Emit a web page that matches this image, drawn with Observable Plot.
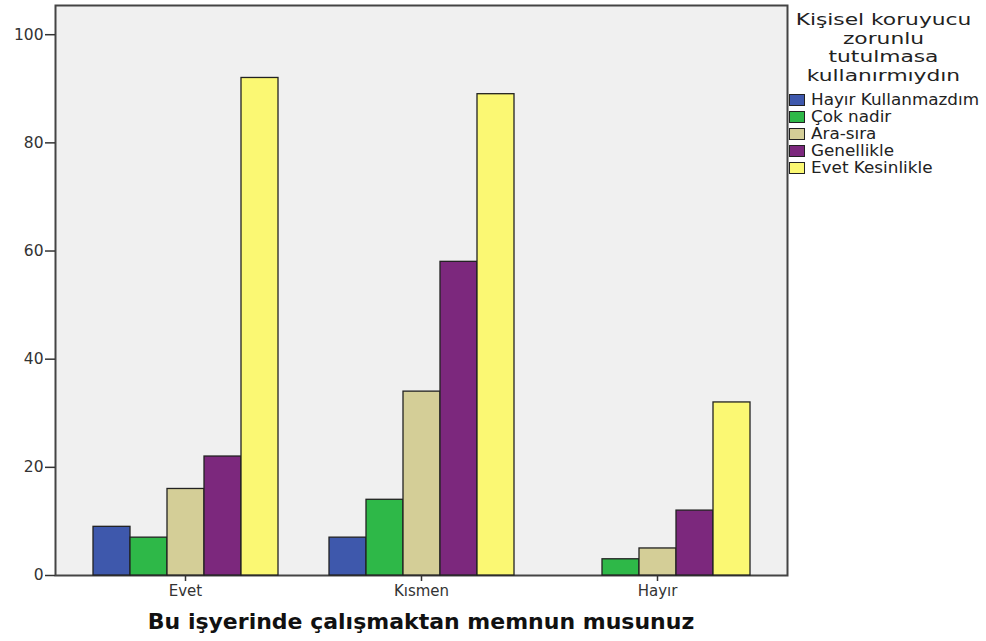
<!DOCTYPE html>
<html><head><meta charset="utf-8">
<script src="https://cdn.jsdelivr.net/npm/d3@7"></script>
<script src="https://cdn.jsdelivr.net/npm/@observablehq/plot@0.6"></script>
<style>
body{margin:0;background:#fff;font-family:"DejaVu Sans",sans-serif;}
#wrap{position:relative;width:986px;height:641px;overflow:hidden;}
#xtitle{position:absolute;left:55px;width:732px;top:608px;text-align:center;font-weight:bold;font-size:22px;line-height:28px;color:#111;}
#legend{position:absolute;left:789px;top:11px;width:197px;color:#222;}
#legend .lt{text-align:center;font-size:16px;line-height:18.5px;margin-left:-8px;margin-bottom:6px;transform:scaleX(1.36);transform-origin:center;}
#legend .it{display:flex;align-items:center;height:17px;font-size:15px;white-space:nowrap;}
#legend .it span{display:inline-block;transform:scaleX(1.12);transform-origin:left center;}
#legend .sw{width:16px;height:12px;border:1px solid #222;margin-right:6px;box-sizing:border-box;flex:none;}
</style></head>
<body><div id="wrap"><div id="chart"></div><div id="xtitle"></div><div id="legend"></div></div>
<script>
const groups = ["Evet", "Kısmen", "Hayır"];
const series = ["Hayır Kullanmazdım", "Çok nadir", "Ara-sıra", "Genellikle", "Evet Kesinlikle"];
const colors = ["#3e58ac", "#2eb848", "#d4ce97", "#7c287d", "#fbf873"];
const evetValues = [9, 7, 16, 22, 92];
const kismenValues = [7, 14, 34, 58, 89];
const hayirValues = [0, 3, 5, 12, 32];
const yTicks = [0, 20, 40, 60, 80, 100];
const xTitle = "Bu işyerinde çalışmaktan memnun musunuz";
const legendTitle = ["Kişisel koruyucu", "zorunlu", "tutulmasa", "kullanırmıydın"];

const valuesByGroup = [evetValues, kismenValues, hayirValues];
const data = groups.flatMap((g, gi) => valuesByGroup[gi].map((v, si) => ({group: g, series: series[si], value: v})))
  .filter(d => d.value > 0);

const chart = Plot.plot({
  width: 986, height: 603,
  marginLeft: 67, marginRight: 211, marginTop: 5, marginBottom: 28,
  style: {fontFamily: "DejaVu Sans", fontSize: "14px", color: "#333", background: "transparent"},
  fx: {domain: groups, padding: 0, label: null, axis: null},
  x: {domain: series, paddingInner: 0, paddingOuter: 0.672, axis: null},
  y: {domain: [0, 105.4], label: null, axis: null},
  color: {domain: series, range: colors},
  marks: [
    Plot.frame({facet: "super", fill: "#f0f0f0", stroke: "#444", strokeWidth: 2, insetLeft: -12, insetRight: -12}),
    Plot.barY(data, {fx: "group", x: "series", y: "value", fill: "series", stroke: "#222", strokeWidth: 1.3}),
    Plot.axisY(yTicks, {anchor: "left", dx: -12, tickSize: 10, tickPadding: 2, label: null, fontSize: 15.5, stroke: "#333", strokeWidth: 1.5}),
    Plot.axisFx({anchor: "bottom", tickSize: 6, tickPadding: 4, label: null, fontSize: 15, stroke: "#333", strokeWidth: 1.5})
  ]
});
document.getElementById("chart").appendChild(chart);
document.getElementById("xtitle").textContent = xTitle;

const lg = document.getElementById("legend");
const lt = document.createElement("div");
lt.className = "lt";
lt.innerHTML = legendTitle.map(s => `<div>${s}</div>`).join("");
lg.appendChild(lt);
series.forEach((s, i) => {
  const it = document.createElement("div");
  it.className = "it";
  it.innerHTML = `<div class="sw" style="background:${colors[i]}"></div><span>${s}</span>`;
  lg.appendChild(it);
});
</script>
</body></html>
